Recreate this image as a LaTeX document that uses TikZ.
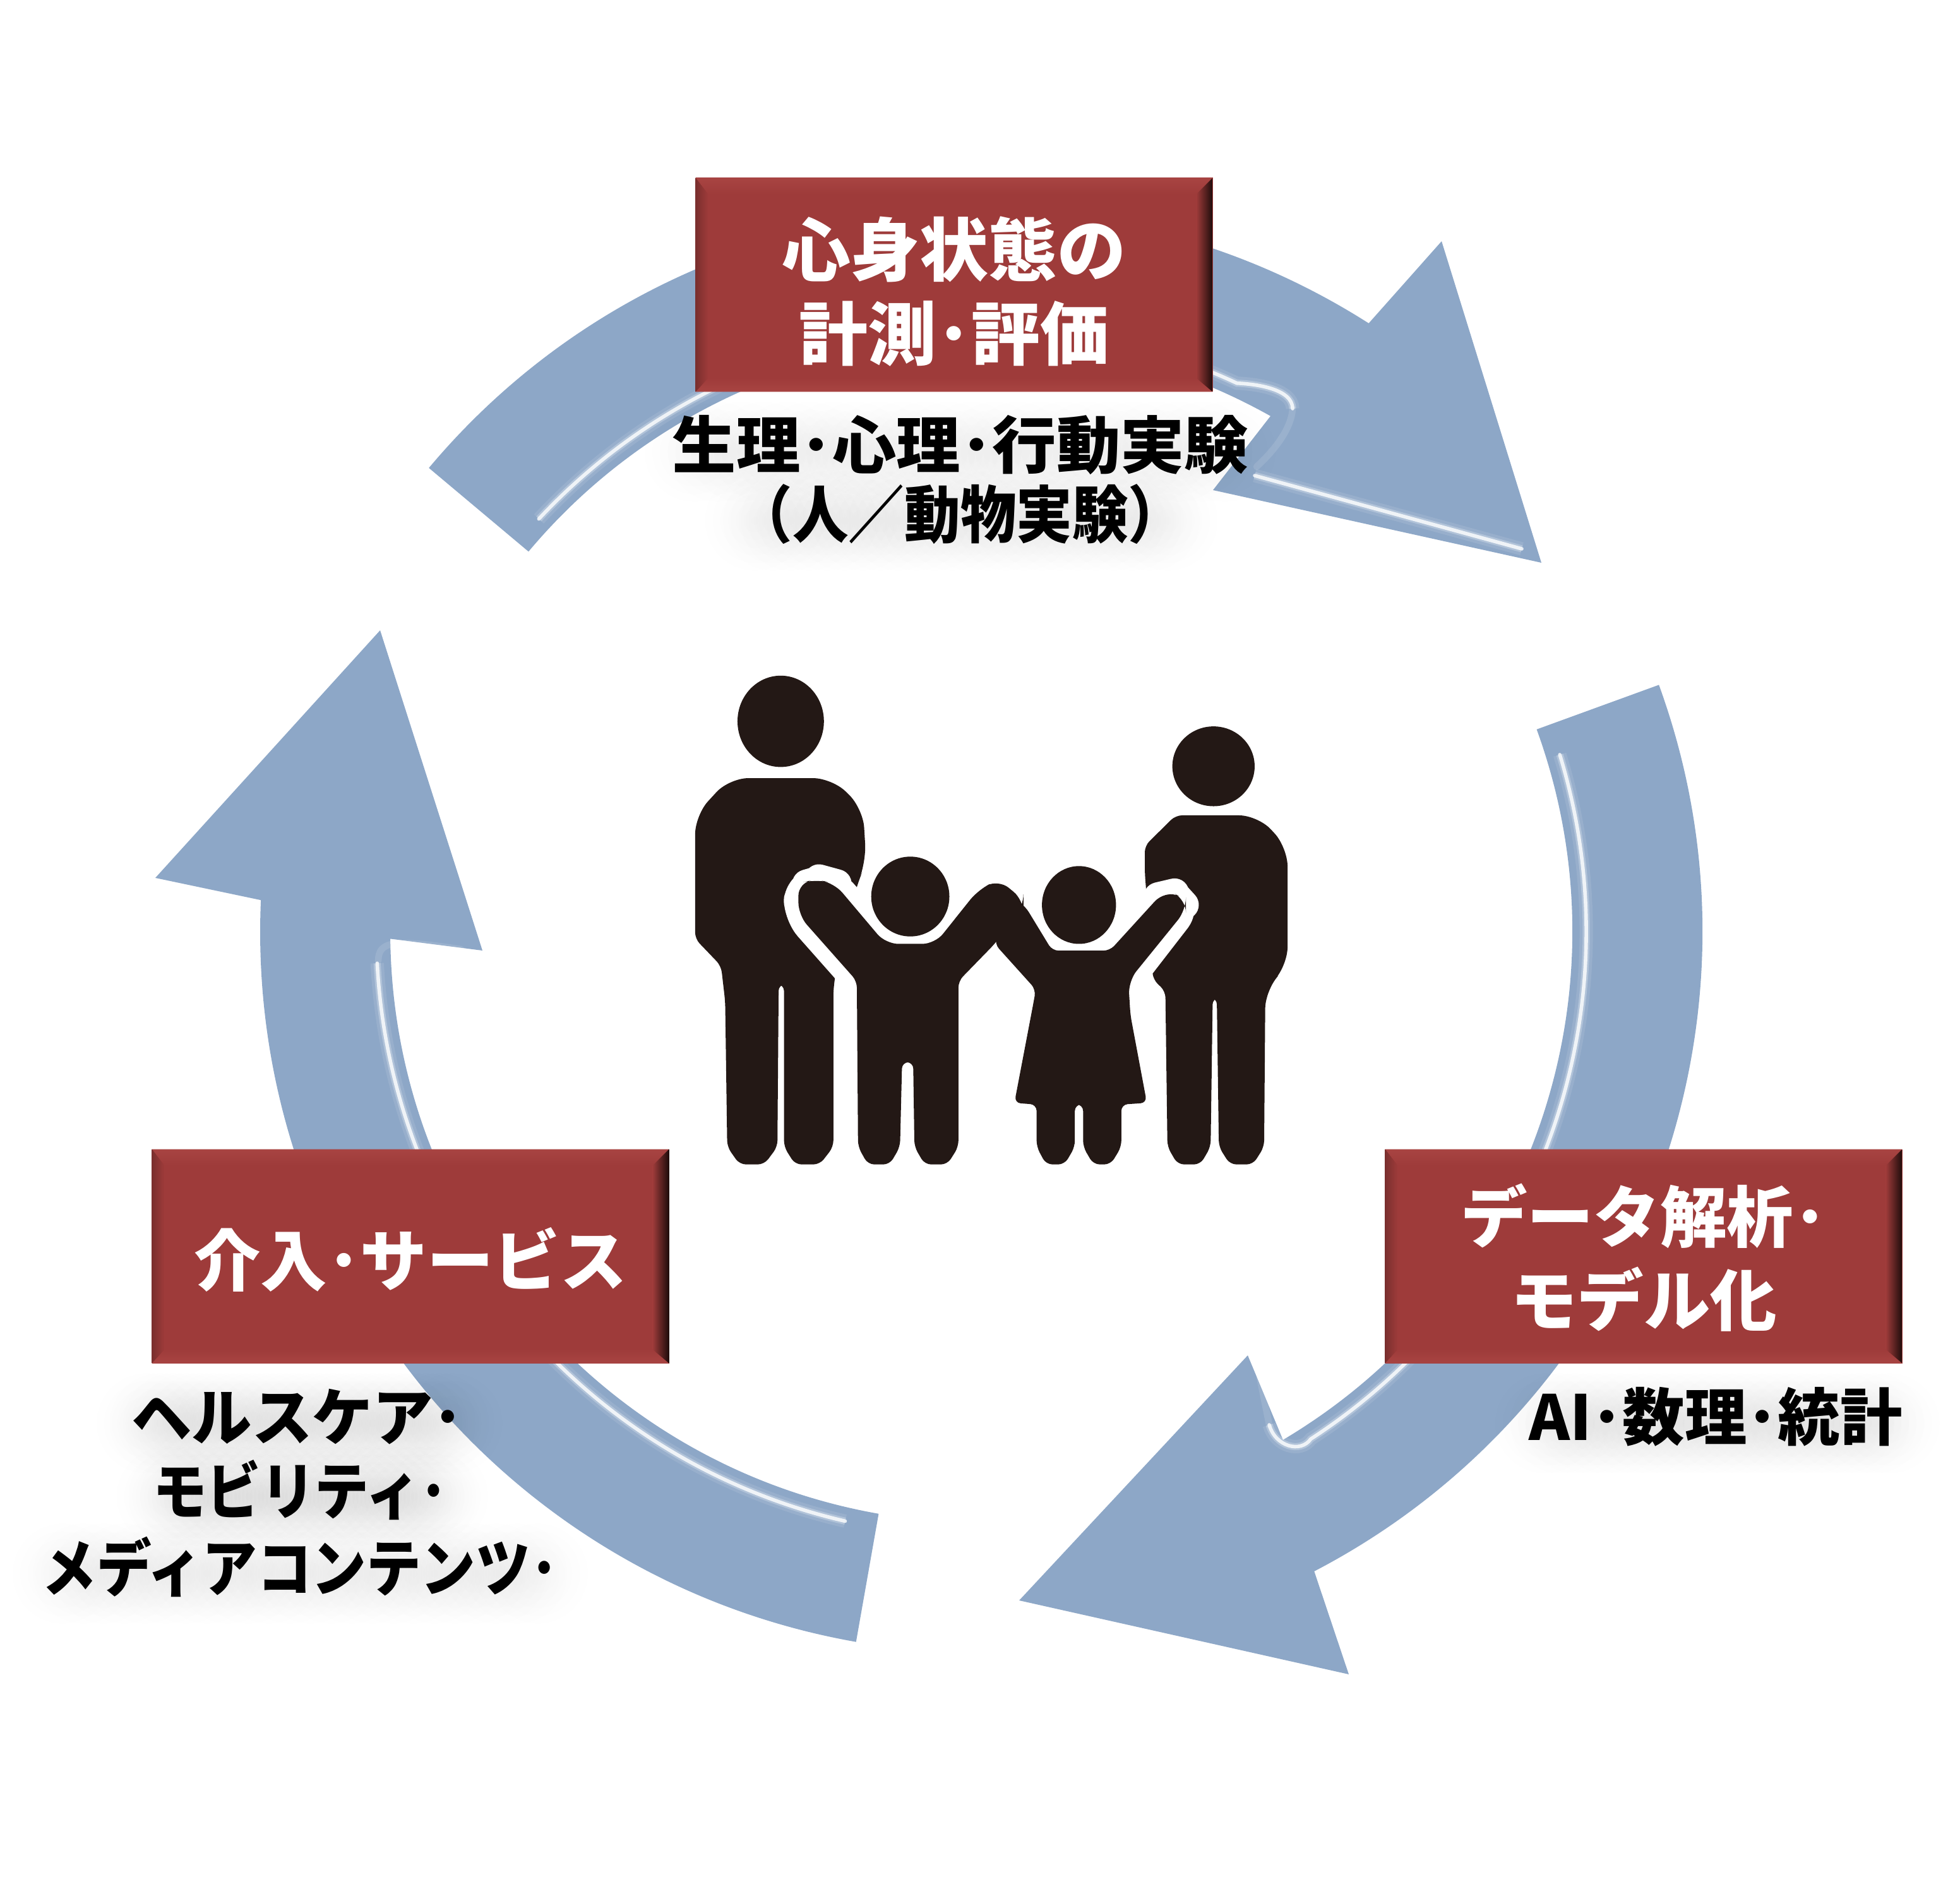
\documentclass[tikz,border=0pt]{standalone}
\usepackage{fontspec}
\setmainfont{Noto Sans CJK JP}
\usepackage{tikz}
\usetikzlibrary{calc,fadings}

\pgfdeclarelayer{notes}
\pgfsetlayers{main,notes}

\definecolor{arrowblue}{HTML}{8DA7C7}
\definecolor{boxred}{HTML}{9E3B3A}
\definecolor{bevelhi}{HTML}{DF7B77}
\definecolor{bevelmid}{HTML}{A84442}
\definecolor{bevellow}{HTML}{5A2625}
\definecolor{bevelleft}{HTML}{7A2F2E}
\definecolor{beveldark}{HTML}{1E0C0B}
\definecolor{figblack}{HTML}{231815}

\tikzfading[name=softspot, inner color=transparent!0, outer color=transparent!100]

\tikzset{
  arrowpart/.style={fill=arrowblue},
  glint/.style={draw=white, line width=1.6pt, draw opacity=0.8, line join=round, line cap=round,
    preaction={draw=white, line width=3.2pt, draw opacity=0.25},
    preaction={draw=white, line width=6pt, draw opacity=0.1}},
  glintfaint/.style={draw=white, line width=3pt, draw opacity=0.12, line join=round, line cap=round},
  stepbox/.style={rectangle, fill=boxred, inner sep=0pt, minimum width=8.19cm, minimum height=3.39cm,
    text=white, align=center, font=\fontsize{30}{37.7}\selectfont\bfseries,
    path picture={
      \coordinate (nw) at (path picture bounding box.north west);
      \coordinate (ne) at (path picture bounding box.north east);
      \coordinate (sw) at (path picture bounding box.south west);
      \coordinate (se) at (path picture bounding box.south east);
      \coordinate (inw) at ([shift={(0.2,-0.26)}]nw);
      \coordinate (ine) at ([shift={(-0.26,-0.26)}]ne);
      \coordinate (isw) at ([shift={(0.2,0.22)}]sw);
      \coordinate (ise) at ([shift={(-0.26,0.22)}]se);
      \shade[top color=bevelmid, middle color=bevelhi, bottom color=boxred] (nw) -- (ne) -- (ine) -- (inw) -- cycle;
      \shade[top color=boxred, middle color=bevellow, bottom color=bevelmid] (sw) -- (se) -- (ise) -- (isw) -- cycle;
      \shade[left color=bevelleft, right color=boxred] (nw) -- (inw) -- (isw) -- (sw) -- cycle;
      \shade[right color=beveldark, left color=boxred] (ne) -- (ine) -- (ise) -- (se) -- cycle;
    }},
  haze/.style={fill=black, fill opacity=0.028, path fading=softspot},
  noteline/.style={inner sep=0pt, font=\fontsize{28}{32}\selectfont\bfseries},
  slimline/.style={noteline, font=\fontsize{28}{32}\selectfont\bfseries\addfontfeature{FakeStretch=#1}},
}

\begin{document}
\begin{tikzpicture}
\useasboundingbox (0,0) rectangle (31.04,30.01);

\coordinate (C) at (15.54,15.26);

% the three arrows
\fill [arrowpart] (C) ++(140:11.42) arc (140:57.5:11.42) -- (22.83,26.19) -- (24.41,21.10) -- (19.21,22.25)
  -- ([shift={(C)}]60.7:9.36) arc (60.7:140:9.36) -- cycle;
\fill [arrowpart] (C) ++(20:11.42) arc (20:-62.5:11.42) -- (21.36,3.50) -- (16.14,4.67) -- (19.76,8.55)
  -- ([shift={(C)}]-59.3:9.36) arc (-59.3:20:9.36) -- cycle;
\fill [arrowpart] (C) ++(260:11.42) arc (260:177.5:11.42) -- (2.46,16.11) -- (6.02,20.03) -- (7.64,14.96)
  -- ([shift={(C)}]180.7:9.36) arc (180.7:260:9.36) -- cycle;

% glints on the inner edges
\path [glint] (C) ++(137:9.58) arc (137:65:9.58) .. controls (19.90,23.93) and (20.47,23.85) .. (20.47,23.54);
\path [glintfaint] (20.47,23.54) .. controls (20.45,23.20) and (20.15,22.85) .. (19.90,22.62);
\path [glint] (19.87,22.48) -- (24.10,21.32);
\path [glint] (C) ++(17:9.58) arc (17:-57:9.58) .. controls (20.60,7.00) and (20.20,7.10) .. (20.10,7.45);
\path [glintfaint] (20.10,7.45) -- (19.95,8.20);
\path [glint] (C) ++(257:9.58) arc (257:183:9.58);
\path [glintfaint] (5.99,14.80) .. controls (6.00,15.10) and (6.20,15.15) .. (7.30,14.98);

% family
\begin{scope}[shift={(10.80,19.51)}, x=0.00651cm, y=-0.00536cm, line join=round, rounded corners=0.1cm]
  \fill [figblack] (240,172) ellipse [x radius=105, y radius=135];
  \fill [figblack, rounded corners=0.3cm] (115,340) -- (365,340) -- (440,430) -- (448,590) -- (420,670) -- (400,800) -- (368,930) [rounded corners=0.1cm]
    -- (368,1430) -- (335,1482) -- (275,1482) -- (248,1430) -- (248,950) -- (235,950) -- (232,1430) -- (200,1482) -- (140,1482) -- (110,1430)
    -- (105,1000) -- (95,895) -- (32,815) [rounded corners=0.3cm] -- (32,450) -- cycle;
  \fill [figblack] (1292,305) ellipse [x radius=100, y radius=118];
  \fill [figblack, rounded corners=0.3cm] (1200,450) -- (1400,450) -- (1472,545) -- (1472,895) -- (1418,965) [rounded corners=0.1cm] -- (1415,1430) -- (1388,1482) -- (1332,1482) -- (1305,1430)
    -- (1300,990) -- (1290,990) -- (1285,1430) -- (1260,1482) -- (1205,1482) -- (1180,1430) -- (1175,970) -- (1145,935)
    -- (1125,620) -- (1125,540) -- cycle;

  \path [draw=white, line width=0.46cm, rounded corners=0.25cm] (340,640) -- (370,650) -- (495,830) -- (615,830) -- (720,670) -- (770,640) -- (830,700)
    -- (760,830) -- (672,940) -- (672,1430) -- (645,1482) -- (590,1482) -- (565,1430) -- (562,1180) -- (535,1180) -- (530,1430) -- (505,1482) -- (452,1482) -- (428,1430)
    -- (425,940) -- (283,745) -- (283,660) -- cycle;
  \path [draw=white, line width=0.46cm, rounded corners=0.25cm] (1195,680) -- (1225,720) -- (1085,940) -- (1090,1040) -- (1130,1300) -- (1068,1305) -- (1068,1430) -- (1042,1482)
    -- (1000,1482) -- (975,1430) -- (975,1305) -- (955,1305) -- (955,1430) -- (930,1482) -- (885,1482) -- (862,1430) -- (862,1305) -- (808,1300)
    -- (855,1000) -- (860,965) -- (760,830) -- (820,730) -- (900,850) -- (1040,850) -- (1160,690) -- cycle;

  \fill [figblack] (555,690) ellipse [x radius=95, y radius=118];
  \fill [figblack] (965,715) ellipse [x radius=90, y radius=115];
  \fill [figblack] [rounded corners=0.2cm] (325,640) -- (370,650) -- (495,830) -- (615,830) -- (720,670) -- (770,640) -- (830,700) -- (830,720) [rounded corners=0.1cm]
    -- (760,830) -- (672,940) -- (672,1430) -- (645,1482) -- (590,1482) -- (565,1430) -- (562,1180) -- (535,1180) -- (530,1430) -- (505,1482) -- (452,1482) -- (428,1430)
    -- (425,940) [rounded corners=0.2cm] -- (283,745) -- (283,650) -- cycle;
  \fill [figblack] [rounded corners=0.2cm] (1195,680) -- (1225,700) -- (1225,730) -- (1085,940) [rounded corners=0.1cm] -- (1090,1040) -- (1130,1300) -- (1068,1305) -- (1068,1430) -- (1042,1482)
    -- (1000,1482) -- (975,1430) -- (975,1305) -- (955,1305) -- (955,1430) -- (930,1482) -- (885,1482) -- (862,1430) -- (862,1305) -- (808,1300)
    -- (855,1000) -- (860,965) -- (760,830) -- (790,680) -- (835,720) -- (900,850) -- (1040,850) -- (1160,690) -- cycle;
\end{scope}

% boxes
\node [stepbox, font=\fontsize{31}{33.7}\selectfont\bfseries] (measure) at (15.11,25.50) {\rule{0pt}{32.8pt}心身状態の\\[4pt]計測･評価};
\node [stepbox] (model) at (26.03,10.12) {\rule{0pt}{27.6pt}データ解析･\\モデル化};
\node [stepbox] (service) at (6.50,10.12) {\rule{0pt}{29.5pt}介入･サービス};

% notes
\begin{pgfonlayer}{notes}
\node [slimline=1.03] (physiology) at (15.21,22.96) {生理･心理･行動実験};
\node [slimline=0.9] (subjects) at (15.21,21.87) {（人／動物実験）};
\node [noteline] (method) at (27.17,7.58) {AI･数理･統計};
\node [slimline=0.97] (health) at (4.71,7.58) {ヘルスケア･};
\node [slimline=0.87] (mobility) at (4.75,6.42) {モビリティ･};
\node [slimline=0.88] (media) at (4.75,5.20) {メディアコンテンツ･};
\end{pgfonlayer}

% haze under the notes
\foreach \n in {physiology,subjects,method,health,mobility,media}
  \foreach \t in {0.03,0.07,...,0.98}
    \fill [haze] ($(\n.west)!\t!(\n.east)+(0.08,-0.1)$) circle (0.85);

\end{tikzpicture}
\end{document}
